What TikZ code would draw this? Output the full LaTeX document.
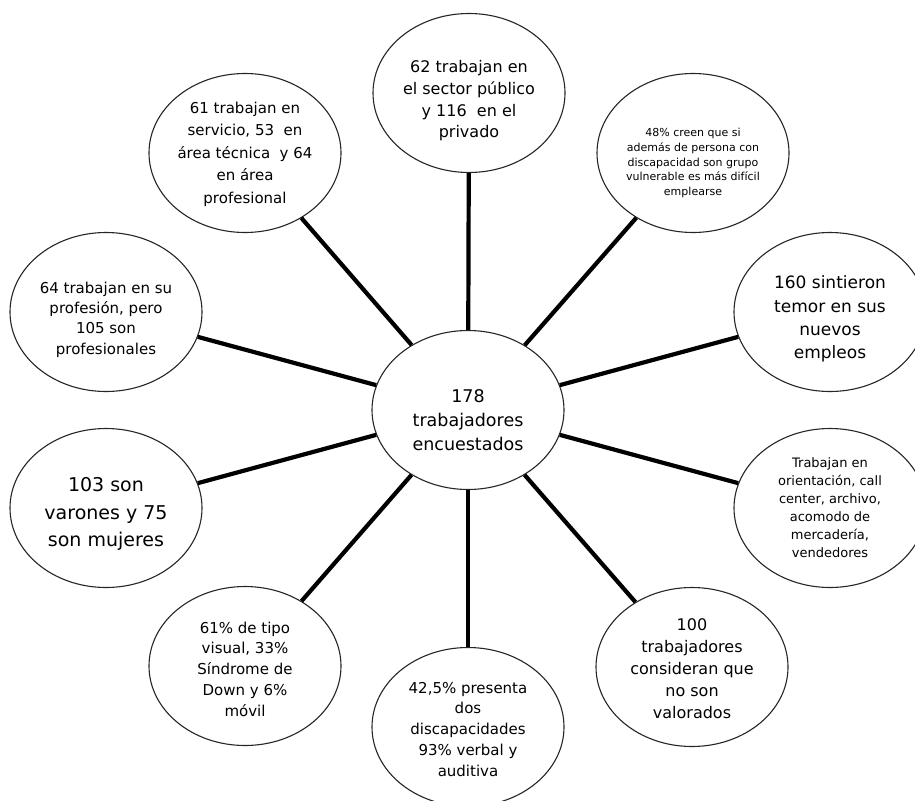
\documentclass[tikz,border=0pt]{standalone}
\usepackage{fontspec}
\setmainfont{DejaVu Sans}
\usetikzlibrary{shapes.geometric}
% lowers a node's text block by #1 pt (taller first line)
\newcommand\tdown[1]{\rule{0pt}{\dimexpr 0.76em+#1pt*2\relax}}
\begin{document}
\begin{tikzpicture}[x=1pt,y=-1pt,
  bub/.style={ellipse, draw=black!85, line width=1.1pt, fill=white,
    minimum width=192pt, minimum height=159pt, inner sep=0pt,
    align=center, text=black},
  spoke/.style={line width=4.2pt, draw=black},
  fs/.style 2 args={font=\fontsize{#1}{#2}\selectfont}
]
\useasboundingbox[fill=white] (0,0) rectangle (915,800);

\node[bub, fs={17.5}{24}] (c) at (468,410) {\tdown{10}178\\trabajadores\\encuestados};
\node[bub, fs={16}{21.7}] (n1) at (469,93) {\tdown{8}62 trabajan en\\el sector público\\y 116\ \ en el\\privado};
\node[bub, fs={11}{14.8}] (n2) at (693,153) {\tdown{10}48\% creen que si\\además de persona con\\discapacidad son grupo\\vulnerable es más difícil\\emplearse};
\node[bub, fs={17}{23.3}] (n3) at (830,312) {\tdown{7}160 sintieron\\temor en sus\\nuevos\\empleos};
\node[bub, fs={13}{18}] (n4) at (830,508) {Trabajan en\\orientación, call\\center, archivo,\\acomodo de\\mercadería,\\vendedores};
\node[bub, fs={16}{22}] (n5) at (692,667) {\tdown{1.5}100\\trabajadores\\consideran que\\no son\\valorados};
\node[bub, fs={15}{20.8}] (n6) at (468,727) {\tdown{2}42,5\% presenta\\dos\\discapacidades\\93\% verbal y\\auditiva};
\node[bub, fs={15}{20.8}] (n7) at (245,666) {\tdown{3}61\% de tipo\\visual, 33\%\\Síndrome de\\Down y 6\%\\móvil};
\node[bub, fs={19}{27.5}] (n8) at (106,508) {\tdown{6}103 son\\varones y 75\\son mujeres};
\node[bub, fs={15}{20.3}] (n9) at (106,312) {\tdown{7.5}64 trabajan en su\\profesión, pero\\105 son\\profesionales};
\node[bub, fs={15}{22.5}] (n10) at (245,153) {\tdown{1}61 trabajan en\\servicio, 53\ \ en\\área técnica\ \ y 64\\en área\\profesional};

\foreach \n in {n1,n2,n3,n4,n5,n6,n7,n8,n9,n10}
  \draw[spoke] (\n) -- (c);
\end{tikzpicture}
\end{document}
